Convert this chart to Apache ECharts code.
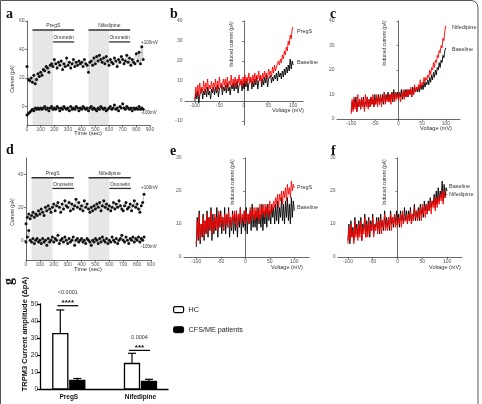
<!DOCTYPE html>
<html><head><meta charset="utf-8">
<script src="https://cdn.jsdelivr.net/npm/echarts@6/dist/echarts.min.js"></script>
<style>html,body{margin:0;padding:0;background:#fff}#c{width:482px;height:404px}</style>
</head><body><div id="c"></div>
<script>
// ---------------- DATA ----------------
const timeStart = 0, timeStep = 10; // seconds
// panel a: +100 mV and -100 mV currents (pA)
const aPos = [28,19,18,20,17,22,16,19,23,21, 24,22,26,25,28,27,24,29,30,28, 33,30,27,31,29,32,26,30,28,34,
  29,31,27,30,33,28,31,29,32,30, 31,28,33,30,29,24,31,32,29,34, 30,35,32,36,33,31,34,30,35,32,
  29,33,31,30,34,32,28,33,31,35, 33,30,32,36,31,34,29,33,31,30, 37,32,38,30,42,33];
const aNeg = [-6,-5,-4,-3,-2,-3,-1,-2,-1,-2, -1,-2,-1,0,-2,-1,-3,-1,0,-2, -1,-2,0,-1,-3,-1,-2,0,-1,-2,
  -1,-3,0,-2,-1,-2,0,-1,-3,-1, -2,0,-1,-2,-1,-3,-1,0,-2,-1, -2,-3,-1,-2,0,-1,-2,-1,-3,-2,
  -1,0,-2,-1,1,-2,-1,-3,0,-1, 2,-1,-2,0,-1,-2,-1,-3,-1,-2, -1,-2,0,-2,-1,-2];
// panel d
const dPos = [10,14,16,13,15,17,14,16,15,18, 16,19,17,15,20,18,21,19,17,20, 22,18,21,23,20,17,22,19,24,21,
  20,23,18,22,19,21,25,20,23,19, 21,18,24,20,22,19,17,20,18,21, 19,22,20,23,18,21,24,20,22,19,
  21,18,20,23,19,22,20,24,21,19, 18,21,23,19,20,22,18,21,24,20, 22,19,17,21,23,28];
const dNeg = [-1,2,6,0,-1,1,-2,0,1,-1, 0,-2,1,-1,0,-3,1,-1,0,2, -1,1,0,3,-2,0,1,-1,2,0,
  -2,1,-1,0,2,-3,0,1,-1,0, 1,-1,0,-2,1,0,-1,-3,0,-1, 1,0,-2,1,-1,2,0,-1,1,-2,
  0,-1,2,0,-1,1,-2,0,1,3, 0,-1,2,0,-2,1,0,2,-1,1, 0,2,-1,1,0,2];
const treatments = [
  {name:'PregS', start:40, end:345, row:0},
  {name:'Ononetin', start:190, end:345, row:1},
  {name:'Nifedipine', start:450, end:755, row:0},
  {name:'Ononetin', start:600, end:755, row:1}
];
const shadedRanges = [[40,190],[450,600]];

const vStart = -100, vStep = 2; // mV
const bRed = [1,7,3,8,2,9,4,7,5,10, 4,9,6,11,5,8,6,10,5,9, 7,11,5,10,6,12,7,9,6,11, 8,11,6,12,7,10,8,13,7,11,
  8,12,7,11,9,13,8,11,7,12, 9,13,8,12,10,14,9,12,8,13, 10,14,9,13,11,15,10,13,9,14, 11,15,12,14,11,16,13,15,12,17,
  14,18,15,17,16,20,18,21,19,23, 21,25,23,27,25,30,28,33,31,36, 37];
const bBlack = [0,4,1,5,-1,3,2,6,1,5, 3,6,2,7,3,5,1,6,4,7, 3,7,4,8,2,6,5,8,3,7, 5,8,4,9,5,7,3,8,6,9,
  5,9,6,10,4,8,7,10,5,9, 6,10,7,11,5,9,8,11,6,10, 7,11,8,12,6,10,9,12,7,11, 8,12,9,13,7,11,10,13,9,12,
  10,13,11,14,10,15,12,14,11,15, 12,16,13,17,14,18,15,21,16,20, 18];
const cRed = [2,8,3,9,4,7,3,10,5,8, 4,9,5,8,3,10,5,9,4,8, 5,9,6,10,5,8,6,10,5,9, 6,10,5,9,7,11,6,9,7,10,
  7,10,6,11,8,10,7,11,8,10, 8,11,7,10,9,12,8,11,9,12, 9,12,10,13,9,12,10,14,11,13, 12,14,12,16,13,15,14,17,15,17,
  16,18,17,20,18,21,20,23,21,24, 23,26,25,28,27,30,29,33,32,36, 38];
const cBlack = [3,7,4,8,5,9,3,7,5,8, 4,8,5,9,4,7,6,9,5,8, 5,9,6,8,5,10,6,9,7,10, 6,9,7,10,6,11,7,10,8,11,
  7,10,8,11,7,12,8,11,9,11, 8,11,9,12,8,11,9,12,9,12, 9,12,10,12,9,13,10,13,11,13, 11,13,11,14,12,14,12,15,13,15,
  14,16,14,17,15,18,16,19,17,20, 18,21,20,23,21,24,23,26,25,28, 29];
const eRed = [4,11,6,13,5,10,7,12,6,11, 8,13,7,12,9,14,7,11,8,13, 9,12,8,14,9,13,10,12,8,13, 10,13,9,14,10,12,9,13,11,14,
  10,14,9,13,11,15,10,13,11,14, 10,14,11,13,10,15,11,14,12,15, 11,15,12,14,11,16,12,15,13,16, 12,16,13,15,12,17,13,16,14,17,
  15,18,16,19,15,19,17,20,16,20, 18,21,17,22,19,21,18,23,20,22, 21];
const eBlack = [3,12,5,14,4,10,6,13,5,11, 7,14,6,12,8,15,5,13,7,12, 8,15,6,13,9,14,7,12,8,15, 7,13,9,15,6,12,8,14,7,13,
  8,14,6,13,9,15,7,12,9,14, 8,15,7,13,10,14,8,16,9,13, 9,14,8,15,10,13,9,16,8,14, 10,15,9,16,11,14,10,16,12,15,
  10,16,11,17,10,15,12,18,11,16, 10,17,12,18,11,16,10,18,12,17, 14];
const fBlack = [5,10,4,11,6,9,5,12,7,10, 6,11,7,12,5,10,8,13,6,11, 7,12,6,11,8,13,7,10,9,12, 8,12,7,13,9,11,8,14,9,12,
  9,12,8,14,10,12,9,13,10,14, 10,13,9,14,11,13,10,15,11,14, 10,14,11,15,10,13,12,16,11,14, 12,15,11,16,13,15,12,17,14,16,
  13,17,14,18,15,17,16,19,15,20, 16,21,17,20,18,23,17,22,18,21, 20];
const fRed = [4,9,5,10,6,8,4,11,6,9, 5,10,6,11,5,9,7,12,6,10, 6,11,7,10,8,12,6,10,8,11, 7,11,8,12,7,11,9,13,8,11,
  8,12,9,13,8,12,10,13,9,12, 9,12,10,13,9,14,10,12,11,13, 10,13,11,14,10,13,11,15,12,14, 11,14,12,15,11,16,13,15,12,16,
  13,16,14,17,13,17,15,18,14,18, 15,18,16,19,17,20,16,20,18,19, 19];

const gCategories = ['PregS','Nifedipine'];
const gHC = [32.6, 15.0], gHCUpper = [46.5, 21.0];
const gCFS = [5.0, 4.5], gCFSUpper = [6.2, 5.7];
const gPvalues = ['<0.0001','0.0004'];
const gStars = ['****','***'];
const gBracketLevel = [49, 22.7];

// ---------------- HELPERS ----------------
const FONT = 'Liberation Sans';
const toTime = arr => arr.map((v,i)=>[timeStart + i*timeStep, v]);
const toVolt = arr => arr.map((v,i)=>[vStart + i*vStep, v]);
const axisCol = '#444';

function valAxis(gi, min, max, ticks, opts) {
  opts = opts || {};
  return {
    type:'value', gridIndex:gi, min:min, max:max, offset: opts.offset || 0,
    axisLine:{show:true, onZero: opts.onZero !== undefined ? opts.onZero : true, lineStyle:{color:axisCol, width:0.8}},
    axisTick:{show:true, length:2, customValues:ticks, lineStyle:{color:axisCol, width:0.7}},
    axisLabel:{customValues:ticks, fontSize:5, color:'#555', margin:2.5, fontFamily:FONT},
    splitLine:{show:false}
  };
}

function traceSeries(gi, arr) {
  return {type:'line', xAxisIndex:gi, yAxisIndex:gi, data:toTime(arr), symbol:'circle', symbolSize:3,
    showAllSymbol:true, itemStyle:{color:'#111'}, lineStyle:{color:'#888', width:0.5}, z:3, silent:true, animation:false};
}
function ivSeries(gi, arr, color, z) {
  return {type:'line', xAxisIndex:gi, yAxisIndex:gi, data:toVolt(arr), showSymbol:false,
    lineStyle:{color:color, width:0.9}, z:z, silent:true, animation:false};
}
function shadeSeries(gi, yMin, yTop) {
  return {type:'custom', xAxisIndex:gi, yAxisIndex:gi, z:1, silent:true, animation:false,
    data: shadedRanges.map(r=>[r[0], r[1]]),
    renderItem(params, api){
      const p1 = api.coord([api.value(0), yTop]);
      const p2 = api.coord([api.value(1), yMin]);
      return {type:'rect', shape:{x:p1[0], y:p1[1], width:p2[0]-p1[0], height:p2[1]-p1[1]}, style:{fill:'#e6e6e6'}};
    }};
}
function treatSeries(gi, levels) {
  return {type:'custom', xAxisIndex:gi, yAxisIndex:gi, z:5, clip:false, silent:true, animation:false,
    data: treatments.map(t=>[t.start, t.end, levels[t.row]]),
    renderItem(params, api){
      const t = treatments[params.dataIndex];
      const p1 = api.coord([api.value(0), api.value(2)]);
      const p2 = api.coord([api.value(1), api.value(2)]);
      return {type:'group', children:[
        {type:'line', shape:{x1:p1[0], y1:p1[1], x2:p2[0], y2:p2[1]}, style:{stroke:'#333', lineWidth:1.3}},
        {type:'text', x:(p1[0]+p2[0])/2, y:p1[1]-1.5, style:{text:t.name, fontSize:5, fill:'#333', align:'center', verticalAlign:'bottom', fontFamily:FONT}}
      ]};
    }};
}
function txt(x, y, s, o) {
  o = o || {};
  return {type:'text', x:x, y:y, rotation:o.rot||0, silent:true,
    style:{text:s, fontSize:o.size||5, fill:o.color||'#333', fontFamily:o.family||FONT, fontWeight:o.weight||'normal',
      align:o.align||'left', verticalAlign:'middle'}};
}
function letter(x, y, s, rot) {
  return txt(x, y, s, {size:14, weight:'bold', family:'Liberation Serif', color:'#111', rot:rot||0});
}

// ---------------- BAR CHART G ----------------
// category group positions on a 0..10 layout axis
const catPos = gCategories.map((c,i)=> 2.25 + i*5.6);
const barW = 15, barGapPx = 2;
const barOffset = (barW + barGapPx)/2;
const errData = [];
gCategories.forEach((c,i)=>{ errData.push([catPos[i], gHC[i], gHCUpper[i], -1]); errData.push([catPos[i], gCFS[i], gCFSUpper[i], 1]); });
const sigData = gCategories.map((c,i)=>[catPos[i], gBracketLevel[i]]);
function barRender(side, fill, border) {
  return function(params, api){
    const x = api.value(0), v = api.value(1);
    const p0 = api.coord([x, 0]), p1 = api.coord([x, v]);
    const cx = p0[0] + side*barOffset;
    return {type:'rect', shape:{x:cx-barW/2, y:p1[1], width:barW, height:p0[1]-p1[1]},
      style:{fill:fill, stroke:border, lineWidth:1.3}};
  };
}

const option = {
  animation:false,
  grid:[
    {left:27, top:21, width:123, height:104},
    {left:185, top:21, width:118, height:104},
    {left:337, top:21, width:123, height:98},
    {left:26, top:158, width:125, height:102},
    {left:184, top:158, width:125, height:99},
    {left:338, top:158, width:124, height:99},
    {left:40, top:304, width:128, height:85}
  ],
  xAxis:[
    valAxis(0, 0, 900, [0,100,200,300,400,500,600,700,800,900], {onZero:false}),
    valAxis(1, -120, 120, [-100,-50,0,50,100], {onZero:false, offset:-24}),
    valAxis(2, -130, 130, [-100,-50,0,50,100]),
    valAxis(3, 0, 900, [0,100,200,300,400,500,600,700,800,900], {onZero:false}),
    valAxis(4, -125, 130, [-100,-50,0,50,100]),
    valAxis(5, -120, 130, [-100,-50,0,50,100]),
    {type:'value', gridIndex:6, min:0, max:10,
      axisLine:{show:true, onZero:false, lineStyle:{color:'#000', width:1.3}}, axisTick:{show:false},
      splitLine:{show:false},
      axisLabel:{customValues:catPos, formatter:(v)=>{const i=catPos.findIndex(p=>Math.abs(p-v)<1e-6); return i>=0?gCategories[i]:'';},
        fontSize:6.5, fontWeight:'bold', color:'#111', margin:5, fontFamily:FONT}}
  ],
  yAxis:[
    valAxis(0, -13, 60, [0,20,40,60]),
    valAxis(1, -12, 40, [-10,0,10,20,30,40]),
    valAxis(2, 0, 40, [0,10,20,30,40]),
    valAxis(3, -12, 50, [0,20,40]),
    valAxis(4, 0, 30, [0,10,20,30]),
    valAxis(5, 0, 30, [0,10,20,30]),
    {type:'value', gridIndex:6, min:0, max:50, interval:10,
      axisLine:{show:true, onZero:false, lineStyle:{color:'#000', width:1.3}},
      axisTick:{show:true, length:3, lineStyle:{color:'#000', width:1.2}},
      axisLabel:{fontSize:6.5, color:'#222', margin:2, fontFamily:FONT},
      splitLine:{show:false}}
  ],
  legend:{orient:'vertical', left:173, top:306, padding:0, itemWidth:10, itemHeight:6, itemGap:13,
    data:[{name:'HC', itemStyle:{color:'#fff', borderColor:'#000', borderWidth:1.2}},
          {name:'CFS/ME patients', itemStyle:{color:'#000', borderColor:'#000', borderWidth:1}}],
    textStyle:{fontSize:7.2, color:'#222', fontFamily:FONT}},
  series:[
    shadeSeries(0, -13, 53.7),
    traceSeries(0, aPos), traceSeries(0, aNeg),
    treatSeries(0, [53.7, 45.3]),
    ivSeries(1, bBlack, '#000', 2), ivSeries(1, bRed, '#ff0000', 3),
    ivSeries(2, cBlack, '#000', 2), ivSeries(2, cRed, '#ff0000', 3),
    shadeSeries(3, -12, 38),
    traceSeries(3, dPos), traceSeries(3, dNeg),
    treatSeries(3, [38, 31.5]),
    ivSeries(4, eBlack, '#000', 2), ivSeries(4, eRed, '#ff0000', 3),
    ivSeries(5, fBlack, '#000', 2), ivSeries(5, fRed, '#ff0000', 3),
    {name:'HC', type:'custom', xAxisIndex:6, yAxisIndex:6, z:3, silent:true,
      itemStyle:{color:'#fff', borderColor:'#000'},
      data:gCategories.map((c,i)=>[catPos[i], gHC[i]]), renderItem:barRender(-1, '#fff', '#000')},
    {name:'CFS/ME patients', type:'custom', xAxisIndex:6, yAxisIndex:6, z:3, silent:true,
      itemStyle:{color:'#000'},
      data:gCategories.map((c,i)=>[catPos[i], gCFS[i]]), renderItem:barRender(1, '#000', '#000')},
    {type:'custom', xAxisIndex:6, yAxisIndex:6, data:errData, z:4, clip:false, silent:true,
      renderItem(params, api){
        const xv = api.value(0), val = api.value(1), up = api.value(2), side = api.value(3);
        const p = api.coord([xv, val]), q = api.coord([xv, up]);
        const x = p[0] + side*barOffset;
        return {type:'group', children:[
          {type:'line', shape:{x1:x, y1:p[1], x2:x, y2:q[1]}, style:{stroke:'#000', lineWidth:1.2}},
          {type:'line', shape:{x1:x-4, y1:q[1], x2:x+4, y2:q[1]}, style:{stroke:'#000', lineWidth:1.2}}
        ]};
      }},
    {type:'custom', xAxisIndex:6, yAxisIndex:6, data:sigData, z:4, clip:false, silent:true,
      renderItem(params, api){
        const i = params.dataIndex;
        const p = api.coord([api.value(0), api.value(1)]);
        const x1 = p[0] - barOffset - 3, x2 = p[0] + barOffset + 1;
        return {type:'group', children:[
          {type:'line', shape:{x1:x1, y1:p[1], x2:x2, y2:p[1]}, style:{stroke:'#000', lineWidth:1.2}},
          {type:'text', x:(x1+x2)/2, y:p[1]+1, style:{text:gStars[i], fontSize:8, fontWeight:'bold', fill:'#111', align:'center', verticalAlign:'bottom', fontFamily:FONT}},
          {type:'text', x:(x1+x2)/2, y:p[1]-10, style:{text:gPvalues[i], fontSize:5.5, fill:'#333', align:'center', verticalAlign:'bottom', fontFamily:FONT}}
        ]};
      }}
  ],
  graphic:[
    {type:'rect', silent:true, shape:{x:0.5, y:0.5, width:477.5, height:420, r:[0,7,0,0]}, style:{fill:'none', stroke:'#555', lineWidth:1}},
    letter(6, 14, 'a'), letter(170, 14, 'b'), letter(330, 14, 'c'),
    letter(6, 150, 'd'), letter(170, 151, 'e'), letter(331, 151, 'f'),
    letter(9, 285, 'g', Math.PI/2),
    txt(25, 334, 'TRPM3 Current amplitude (\u0394pA)', {rot:Math.PI/2, align:'center', size:7.5, weight:'bold', color:'#111'}),
    // panel a texts
    txt(13, 79, 'Current (pA)', {rot:Math.PI/2, align:'center'}),
    txt(88, 133, 'Time (sec)', {size:6, align:'center'}),
    txt(141, 43, '+100mV', {size:4.5}), txt(141, 113, '-100mV', {size:4.5}),
    // panel d texts
    txt(13, 212, 'Current (pA)', {rot:Math.PI/2, align:'center'}),
    txt(88, 269, 'Time (sec)', {size:6, align:'center'}),
    txt(141, 188, '+100mV', {size:4.5}), txt(141, 247, '-100mV', {size:4.5}),
    // panel b
    txt(232, 44, 'Induced current (pA)', {rot:Math.PI/2, align:'center'}),
    txt(288, 110, 'Voltage (mV)', {size:5.5, align:'center'}),
    txt(297, 31, 'PregS', {size:5.5}), txt(297, 62, 'Baseline', {size:5.5}),
    // panel c
    txt(385, 43, 'Induced current (pA)', {rot:Math.PI/2, align:'center'}),
    txt(436, 128, 'Voltage (mV)', {size:5.5, align:'center'}),
    txt(452, 27, 'Nifedipine', {size:5.5}), txt(452, 49, 'Baseline', {size:5.5}),
    // panel e
    txt(233, 182, 'Induced current (pA)', {rot:Math.PI/2, align:'center'}),
    txt(287, 267, 'Voltage (mV)', {size:5.5, align:'center'}),
    txt(297, 187, 'PregS', {size:5.5}), txt(297, 207, 'Baseline', {size:5.5}),
    // panel f
    txt(385, 182, 'Induced current (pA)', {rot:Math.PI/2, align:'center'}),
    txt(445, 267, 'Voltage (mV)', {size:5.5, align:'center'}),
    txt(449, 186, 'Baseline', {size:5.5}), txt(449, 194, 'Nifedipine', {size:5.5})
  ]
};
const chart = echarts.init(document.getElementById('c'), null, {renderer:'canvas'});
chart.setOption(option);
</script></body></html>
